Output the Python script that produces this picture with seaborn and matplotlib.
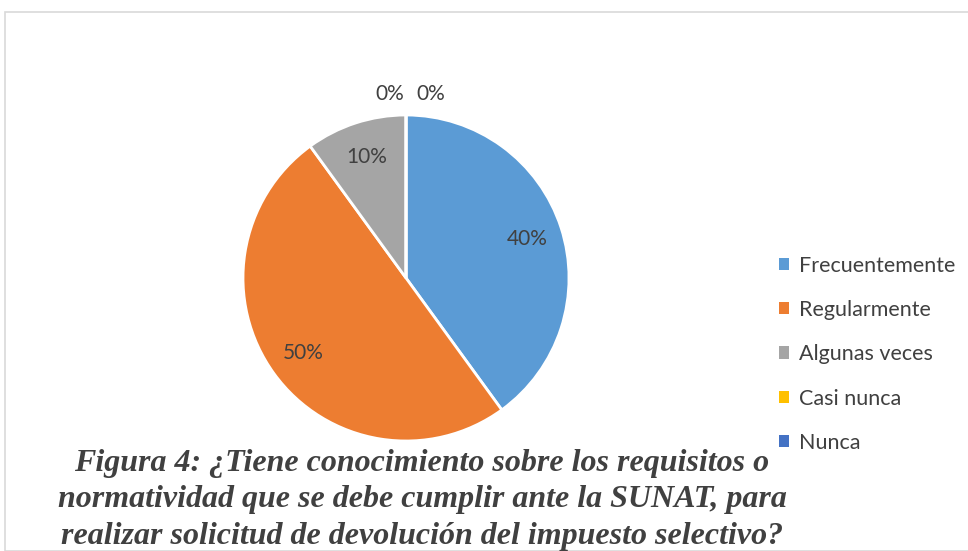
import matplotlib
matplotlib.use("Agg")
import matplotlib.pyplot as plt
import numpy as np
import seaborn as sns
from matplotlib.patches import Rectangle, Patch

categories = ["Frecuentemente", "Regularmente", "Algunas veces", "Casi nunca", "Nunca"]
shares = [40, 50, 10, 0, 0]
colors = ["#5B9BD5", "#ED7D31", "#A5A5A5", "#FFC000", "#4472C4"]
title = ("Figura 4: ¿Tiene conocimiento sobre los requisitos o\n"
         "normatividad que se debe cumplir ante la SUNAT, para\n"
         "realizar solicitud de devolución del impuesto selectivo?")

sns.set_theme(style="white")
plt.rcParams["font.family"] = ["Lato", "DejaVu Sans"]

W, H = 968, 551
fig = plt.figure(figsize=(W / 100, H / 100), dpi=100)

# chart-area frame
fig.patches.append(Rectangle((5 / W, 0), 1.0, (H - 12) / H, transform=fig.transFigure,
                             fill=False, edgecolor="#d9d9d9", linewidth=1.2, clip_on=False))

cx, cy, r = 406, H - 278, 163
ax = fig.add_axes([(cx - r) / W, (cy - r) / H, 2 * r / W, 2 * r / H])
wedges, _ = ax.pie(shares, colors=colors, startangle=90, counterclock=False,
                   wedgeprops=dict(edgecolor="white", linewidth=2))
ax.set_xlim(-1, 1)
ax.set_ylim(-1, 1)

zero_offsets = iter([-0.10, 0.15])
for w, v in zip(wedges, shares):
    if v > 0:
        ang = np.deg2rad((w.theta1 + w.theta2) / 2)
        ax.text(0.78 * np.cos(ang), 0.78 * np.sin(ang), f"{v}%", ha="center", va="center",
                fontsize=15, color="#404040")
    else:
        ax.text(next(zero_offsets), 1.13, f"{v}%", ha="center", va="center",
                fontsize=15, color="#404040", clip_on=False)

handles = [Patch(facecolor=c, edgecolor="none") for c in colors]
fig.legend(handles, categories, loc="upper left", bbox_to_anchor=(770 / W, 1 - 247 / H),
           frameon=False, fontsize=15.5, handlelength=0.5, handleheight=0.5,
           handletextpad=0.45, labelspacing=1.13, labelcolor="#404040", borderaxespad=0)

fig.text(422 / W, 1 - 500 / H, title, ha="center", va="center", fontsize=23,
         family="Liberation Serif", fontweight="bold", fontstyle="italic",
         color="#404040", linespacing=1.36)

fig.savefig("out.png", dpi=100)
